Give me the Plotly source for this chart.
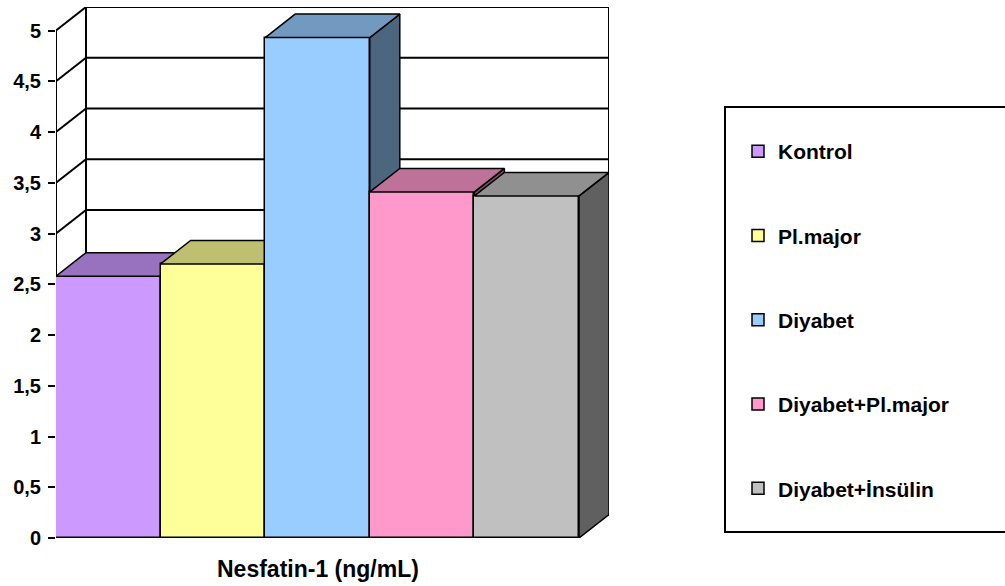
import plotly.graph_objects as go

# Nesfatin-1 levels per study group
groups = ["Kontrol", "Pl.major", "Diyabet", "Diyabet+Pl.major", "Diyabet+İnsülin"]
nesfatin = [2.58, 2.70, 4.93, 3.41, 3.37]
front_colors = ["#CC99FF", "#FFFF99", "#99CCFF", "#FF99CC", "#C0C0C0"]
y_ticks = [0, 0.5, 1, 1.5, 2, 2.5, 3, 3.5, 4, 4.5, 5]
y_tick_text = ["0", "0,5", "1", "1,5", "2", "2,5", "3", "3,5", "4", "4,5", "5"]
axis_title = "Nesfatin-1 (ng/mL)"

# Page / plot-area geometry (pixels)
W, H = 1005, 586
M_L, M_R, M_T, M_B = 56, 396, 7, 48
PLOT_W = W - M_L - M_R
PLOT_H = H - M_T - M_B
BAR_PX = 104.6        # pixels per category (bar width)
Y_PX = 101.5          # pixels per unit of value
DEPTH_X, DEPTH_Y = 30, 23.5   # oblique depth offset of the 3-D box

x_max = PLOT_W / BAR_PX
y_max = PLOT_H / Y_PX
ddx = DEPTH_X / BAR_PX
ddy = DEPTH_Y / Y_PX
y_top = y_ticks[-1]
n = len(groups)

FONT = "Liberation Sans, Arial, sans-serif"
EDGE = "#000000"


def shade(hex_color, f):
    h = hex_color.lstrip("#")
    r, g, b = (int(h[k:k + 2], 16) for k in (0, 2, 4))
    return "#%02X%02X%02X" % (int(r * f), int(g * f), int(b * f))


fig = go.Figure()

axis_common = dict(range=[0, x_max], visible=False, fixedrange=True)
yaxis_common = dict(range=[0, y_max], fixedrange=True)

# Each bar lives on its own overlaid axis pair so bars are painted left to right,
# letting a later bar hide the side face of the previous one.
for i, (name, v, col) in enumerate(zip(groups, nesfatin, front_colors)):
    xa = "x" if i == 0 else f"x{i + 1}"
    ya = "y" if i == 0 else f"y{i + 1}"
    x0, x1 = i, i + 1
    fig.add_trace(go.Bar(
        x=[i + 0.5], y=[v], width=[1], name=name,
        marker=dict(color=col, line=dict(color=EDGE, width=1.5)),
        xaxis=xa, yaxis=ya, legendgroup=name, hoverinfo="name+y",
    ))
    # right side face
    fig.add_trace(go.Scatter(
        x=[x1, x1 + ddx, x1 + ddx, x1, x1],
        y=[0, ddy, v + ddy, v, 0],
        mode="lines", fill="toself", fillcolor=shade(col, 0.5),
        line=dict(color=EDGE, width=1.5), showlegend=False, hoverinfo="skip",
        xaxis=xa, yaxis=ya,
    ))
    # top face
    fig.add_trace(go.Scatter(
        x=[x0, x1, x1 + ddx, x0 + ddx, x0],
        y=[v, v, v + ddy, v + ddy, v],
        mode="lines", fill="toself", fillcolor=shade(col, 0.75),
        line=dict(color=EDGE, width=1.5), showlegend=False, hoverinfo="skip",
        xaxis=xa, yaxis=ya,
    ))

shapes = []
# back wall
shapes.append(dict(type="rect", xref="x", yref="y", layer="below",
                   x0=ddx, x1=n + ddx, y0=ddy, y1=y_top + ddy,
                   fillcolor="white", line=dict(color=EDGE, width=2)))
# gridlines on back wall and on the left wall
for t in y_ticks:
    if 0 < t < y_top:
        shapes.append(dict(type="line", xref="x", yref="y", layer="below",
                           x0=ddx, x1=n + ddx, y0=t + ddy, y1=t + ddy,
                           line=dict(color=EDGE, width=2)))
    shapes.append(dict(type="line", xref="x", yref="y", layer="below",
                       x0=0, x1=ddx, y0=t, y1=t + ddy,
                       line=dict(color=EDGE, width=2)))
# front value axis line
shapes.append(dict(type="line", xref="x", yref="y", layer="below",
                   x0=0, x1=0, y0=0, y1=y_top, line=dict(color=EDGE, width=2)))
# legend frame
px_to_xp = lambda px: (px - M_L) / PLOT_W
px_to_yp = lambda py: (H - M_B - py) / PLOT_H
shapes.append(dict(type="rect", xref="paper", yref="paper",
                   x0=px_to_xp(725), x1=px_to_xp(1012),
                   y0=px_to_yp(532), y1=px_to_yp(107),
                   fillcolor="rgba(0,0,0,0)", line=dict(color=EDGE, width=2)))

layout_axes = {}
for i in range(n):
    xk = "xaxis" if i == 0 else f"xaxis{i + 1}"
    yk = "yaxis" if i == 0 else f"yaxis{i + 1}"
    xa = dict(axis_common)
    ya = dict(yaxis_common)
    if i == 0:
        ya.update(
            tickmode="array", tickvals=y_ticks, ticktext=y_tick_text,
            ticks="outside", ticklen=7, tickwidth=2, tickcolor=EDGE,
            showgrid=False, zeroline=False, showline=False,
            tickfont=dict(family=FONT, size=20, color=EDGE, weight="bold"),
            ticklabelstandoff=3,
        )
    else:
        xa["overlaying"] = "x"
        ya.update(overlaying="y", visible=False)
    layout_axes[xk] = xa
    layout_axes[yk] = ya

fig.update_layout(
    width=W, height=H,
    margin=dict(l=M_L, r=M_R, t=M_T, b=M_B, pad=0),
    paper_bgcolor="white", plot_bgcolor="white",
    barmode="overlay", bargap=0,
    shapes=shapes,
    showlegend=True,
    legend=dict(
        x=px_to_xp(738), y=px_to_yp(131), xanchor="left", yanchor="top",
        traceorder="grouped", tracegroupgap=54,
        font=dict(family=FONT, size=21, color=EDGE, weight="bold"),
        bgcolor="rgba(0,0,0,0)", borderwidth=0,
    ),
    annotations=[dict(
        text=axis_title, xref="x", yref="paper", x=2.5, y=px_to_yp(569),
        xanchor="center", yanchor="middle", showarrow=False,
        font=dict(family=FONT, size=23, color=EDGE, weight="bold"),
    )],
    **layout_axes,
)

fig.write_html("out.html")
